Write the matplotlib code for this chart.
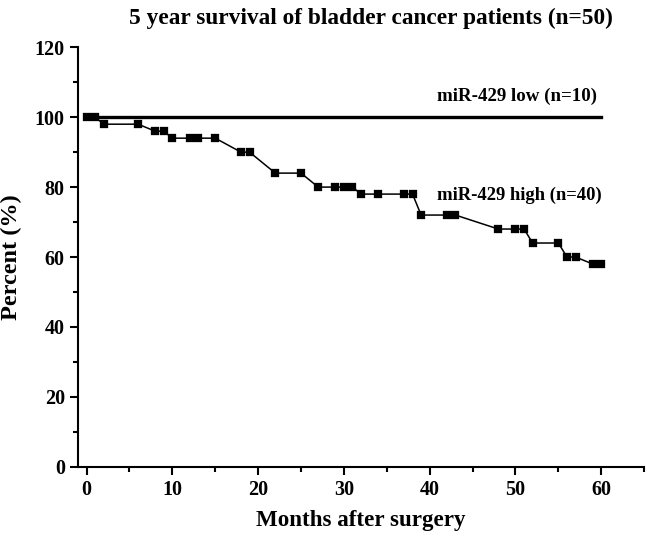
import numpy as np
import matplotlib
matplotlib.use('Agg')
import matplotlib.pyplot as plt
from matplotlib.ticker import MultipleLocator

# Survival data
months_high = [0, 1, 2, 6, 8, 9, 10, 12, 13, 15, 18, 19, 22, 25, 27, 29, 30, 31,
               32, 34, 37, 38, 39, 42, 43, 48, 50, 51, 52, 55, 56, 57, 59, 60]
percent_high = [100, 100, 98, 98, 96, 96, 94, 94, 94, 94, 90, 90, 84, 84, 80, 80, 80, 80,
                78, 78, 78, 78, 72, 72, 72, 68, 68, 68, 64, 64, 60, 60, 58, 58]
months_low = [0, 60]
percent_low = [100, 100]

plt.rcParams['font.family'] = 'Liberation Serif'
plt.rcParams['font.weight'] = 'bold'

fig = plt.figure(figsize=(6.5, 5.41), dpi=100)
ax = fig.add_axes([0.12, 0.1373, 0.871, 0.7753])

ax.plot(months_low, percent_low, color='black', linewidth=2.4)
ax.plot(months_high, percent_high, color='black', linewidth=1.1,
        marker='s', markersize=5.3, markeredgewidth=0.2)

ax.text(40.9, 106, 'miR-429 low (n=10)', fontsize=13.6, fontweight='bold',
        ha='left', va='center')
ax.text(40.9, 77.7, 'miR-429 high (n=40)', fontsize=13.4, fontweight='bold',
        ha='left', va='center')

ax.set_xlim(-1, 65)
ax.set_ylim(0, 120)
ax.xaxis.set_major_locator(MultipleLocator(10))
ax.xaxis.set_minor_locator(MultipleLocator(5))
ax.yaxis.set_major_locator(MultipleLocator(20))
ax.yaxis.set_minor_locator(MultipleLocator(10))

for side in ['top', 'right']:
    ax.spines[side].set_visible(False)
for side in ['left', 'bottom']:
    ax.spines[side].set_linewidth(1.5)

ax.tick_params(which='major', direction='out', length=6, width=1.5, labelsize=14.5)
ax.tick_params(which='minor', direction='out', length=3.5, width=1.5)
for lbl in ax.get_xticklabels() + ax.get_yticklabels():
    lbl.set_fontweight('bold')

ax.set_xlabel('Months after surgery', fontsize=16.6, fontweight='bold', labelpad=7)
ax.set_ylabel('Percent (%)', fontsize=17.5, fontweight='bold', labelpad=9)
fig.text(0.571, 0.966, '5 year survival of bladder cancer patients (n=50)',
         fontsize=16.8, fontweight='bold', ha='center', va='center')

fig.savefig('out.png', dpi=100)
